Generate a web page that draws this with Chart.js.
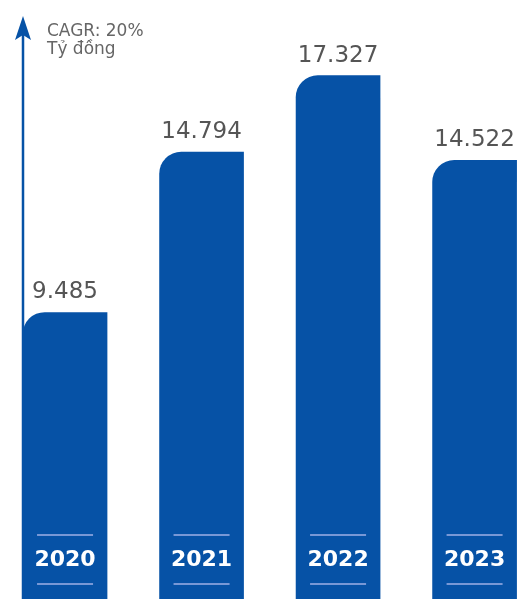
<!DOCTYPE html>
<html>
<head>
<meta charset="utf-8">
<script src="https://cdn.jsdelivr.net/npm/chart.js@4/dist/chart.umd.min.js"></script>
<style>
  html, body { margin: 0; padding: 0; background: #ffffff; }
  #wrap { width: 524px; height: 599px; position: relative; }
</style>
</head>
<body>
<div id="wrap"><canvas id="c"></canvas></div>
<script>
// ---- data ----
const categories = ['2020', '2021', '2022', '2023'];
const revenue = [9485, 14794, 17327, 14522];          // Tỷ đồng
const valueLabels = ['9.485', '14.794', '17.327', '14.522'];
const noteLines = ['CAGR: 20%', 'Tỷ đồng'];

const BAR_BLUE = '#0652a6';

const decorPlugin = {
  id: 'decor',
  afterDatasetsDraw(chart) {
    const ctx = chart.ctx;
    const area = chart.chartArea;
    const meta = chart.getDatasetMeta(0);
    ctx.save();

    // vertical axis arrow
    const ax = area.left;
    ctx.strokeStyle = BAR_BLUE;
    ctx.lineWidth = 2.5;
    ctx.beginPath();
    ctx.moveTo(ax, area.top + 14);
    ctx.lineTo(ax, area.bottom);
    ctx.stroke();
    ctx.fillStyle = BAR_BLUE;
    ctx.beginPath();
    ctx.moveTo(ax, area.top);
    ctx.lineTo(ax + 8, area.top + 24);
    ctx.lineTo(ax, area.top + 19);
    ctx.lineTo(ax - 8, area.top + 24);
    ctx.closePath();
    ctx.fill();

    // note text
    ctx.fillStyle = '#666666';
    ctx.font = '17px "DejaVu Sans"';
    ctx.textAlign = 'left';
    ctx.textBaseline = 'alphabetic';
    noteLines.forEach((t, i) => ctx.fillText(t, ax + 24, area.top + 20 + i * 18));

    // value labels and year labels
    meta.data.forEach((bar, i) => {
      const p = bar.getProps(['x', 'y', 'width'], true);
      ctx.fillStyle = '#555555';
      ctx.font = '23px "DejaVu Sans"';
      ctx.textAlign = 'center';
      ctx.textBaseline = 'alphabetic';
      ctx.fillText(valueLabels[i], p.x, p.y - 14);

      // year label inside bar bottom
      const yc = area.bottom - 40;
      ctx.fillStyle = '#ffffff';
      ctx.font = 'bold 22px "DejaVu Sans"';
      ctx.textBaseline = 'middle';
      ctx.fillText(categories[i], p.x, yc + 1);

      ctx.strokeStyle = '#9fb0e6';
      ctx.lineWidth = 1.5;
      [yc - 24, yc + 25].forEach(ly => {
        ctx.beginPath();
        ctx.moveTo(p.x - 28, ly);
        ctx.lineTo(p.x + 28, ly);
        ctx.stroke();
      });
    });
    ctx.restore();
  }
};

new Chart(document.getElementById('c'), {
  type: 'bar',
  data: {
    datasets: [{
      label: 'Doanh thu',
      data: revenue.map((v, i) => ({ x: i, y: v })),
      backgroundColor: BAR_BLUE,
      borderWidth: 0,
      borderRadius: { topLeft: 22, topRight: 0, bottomLeft: 0, bottomRight: 0 },
      borderSkipped: false,
      barThickness: 84,
      clip: false
    }]
  },
  options: {
    responsive: true,
    maintainAspectRatio: false,
    animation: false,
    layout: { padding: { left: 23, right: 0, top: 16, bottom: 0 } },
    plugins: { legend: { display: false }, tooltip: { enabled: false } },
    scales: {
      x: { type: 'linear', display: false, offset: false, grid: { offset: false }, min: -0.308, max: 3.362 },
      y: { display: false, min: 0, max: 19300 }
    }
  },
  plugins: [decorPlugin]
});
</script>
</body>
</html>
